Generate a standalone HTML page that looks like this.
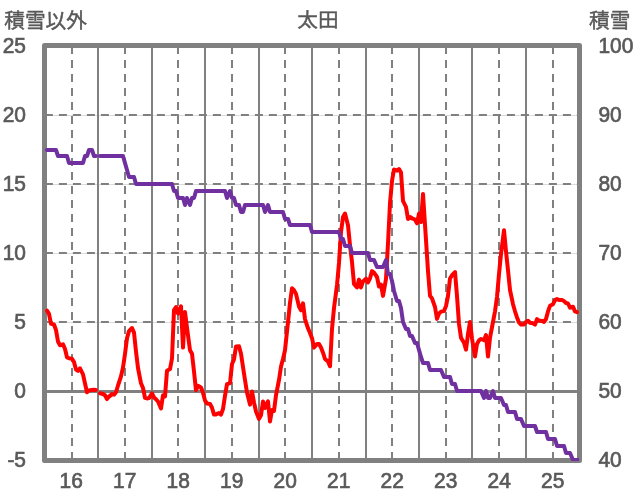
<!DOCTYPE html>
<html lang="ja"><head><meta charset="utf-8"><title>太田</title>
<style>html,body{margin:0;padding:0;background:#fff;overflow:hidden}svg{display:block}text{font-family:"Liberation Sans","Noto Sans CJK JP",sans-serif;fill:#595959}.t{font-size:20.7px;stroke:#595959;stroke-width:0.45px}.n{font-size:22.4px;stroke:#595959;stroke-width:0.7px}</style>
</head><body>
<svg width="636" height="501" viewBox="0 0 636 501">
<rect x="0" y="0" width="636" height="501" fill="#ffffff"/>
<rect x="44.5" y="45.5" width="535.0" height="415.0" fill="none" stroke="#808080" stroke-width="5" stroke-linejoin="round"/>
<g stroke="#dcdcdc" stroke-width="1" fill="none">
<line x1="44.9" y1="115.50" x2="578.9" y2="115.50"/>
<line x1="44.9" y1="184.50" x2="578.9" y2="184.50"/>
<line x1="44.9" y1="253.50" x2="578.9" y2="253.50"/>
<line x1="44.9" y1="322.50" x2="578.9" y2="322.50"/>
</g>
<g stroke="#808080" stroke-width="2" fill="none">
<line x1="72.00" y1="46.1" x2="72.00" y2="460.0" stroke-dasharray="8 6"/>
<line x1="125.00" y1="46.1" x2="125.00" y2="460.0" stroke-dasharray="8 6"/>
<line x1="178.00" y1="46.1" x2="178.00" y2="460.0" stroke-dasharray="8 6"/>
<line x1="232.00" y1="46.1" x2="232.00" y2="460.0" stroke-dasharray="8 6"/>
<line x1="285.00" y1="46.1" x2="285.00" y2="460.0" stroke-dasharray="8 6"/>
<line x1="339.00" y1="46.1" x2="339.00" y2="460.0" stroke-dasharray="8 6"/>
<line x1="392.00" y1="46.1" x2="392.00" y2="460.0" stroke-dasharray="8 6"/>
<line x1="446.00" y1="46.1" x2="446.00" y2="460.0" stroke-dasharray="8 6"/>
<line x1="499.00" y1="46.1" x2="499.00" y2="460.0" stroke-dasharray="8 6"/>
<line x1="553.00" y1="46.1" x2="553.00" y2="460.0" stroke-dasharray="8 6"/>
<line x1="98.00" y1="46.0" x2="98.00" y2="460.0"/>
<line x1="152.00" y1="46.0" x2="152.00" y2="460.0"/>
<line x1="205.00" y1="46.0" x2="205.00" y2="460.0"/>
<line x1="259.00" y1="46.0" x2="259.00" y2="460.0"/>
<line x1="312.00" y1="46.0" x2="312.00" y2="460.0"/>
<line x1="366.00" y1="46.0" x2="366.00" y2="460.0"/>
<line x1="419.00" y1="46.0" x2="419.00" y2="460.0"/>
<line x1="472.00" y1="46.0" x2="472.00" y2="460.0"/>
<line x1="526.00" y1="46.0" x2="526.00" y2="460.0"/>
<line x1="44.9" y1="115.00" x2="578.9" y2="115.00" stroke-dasharray="8 6"/>
<line x1="44.9" y1="184.00" x2="578.9" y2="184.00" stroke-dasharray="8 6"/>
<line x1="44.9" y1="253.00" x2="578.9" y2="253.00" stroke-dasharray="8 6"/>
<line x1="44.9" y1="322.00" x2="578.9" y2="322.00" stroke-dasharray="8 6"/>
</g>
<line x1="44.9" y1="391.50" x2="578.9" y2="391.50" stroke="#808080" stroke-width="3"/>
<defs><clipPath id="pc"><rect x="41.9" y="43.0" width="537.1" height="418.0"/></clipPath></defs>
<g clip-path="url(#pc)" fill="none" stroke="#ff0000" stroke-width="4" stroke-linejoin="round" stroke-linecap="round">
<polyline points="47.0,310.7 49.0,313.8 51.0,323.9 54.0,324.5 56.0,330.2 58.0,341.5 60.0,345.3 63.0,344.3 65.0,349.0 67.0,357.4 69.0,358.3 72.0,358.7 74.0,362.0 76.0,369.5 78.0,370.8 80.0,368.3 83.0,374.3 85.0,383.5 87.0,392.2 89.0,390.5 92.0,389.9 94.0,389.7 96.0,389.9"/>
<polyline points="100.0,393.2 103.0,394.0 105.0,395.3 107.0,399.1 109.0,396.6 112.0,394.1 114.0,394.7 116.0,392.2 118.0,385.5 121.0,376.4 123.0,367.5 125.0,354.0 127.0,338.3 129.0,331.1 132.0,328.0 134.0,332.6 136.0,351.5 138.0,368.0 141.0,383.3 143.0,388.0 145.0,397.8 147.0,398.4 149.0,398.1 152.0,393.4 154.0,397.5 156.0,399.3 158.0,401.5 161.0,408.5 163.0,395.3 165.0,396.5 167.0,370.7 170.0,369.1 172.0,358.5 174.0,310.0 176.0,307.0 178.0,313.5 181.0,306.3 183.0,347.6 185.0,312.0 187.0,327.7 190.0,350.2 192.0,353.8 194.0,371.4 196.0,390.2 198.0,385.8 201.0,387.5 203.0,392.7 205.0,400.6 207.0,403.5 210.0,403.9 212.0,407.7 214.0,414.6 216.0,414.4 219.0,413.0 221.0,414.6 223.0,409.0 225.0,395.8 227.0,384.2 230.0,383.1 232.0,364.0 234.0,359.5 236.0,346.4 239.0,346.2 241.0,353.8 243.0,367.0 245.0,380.0 247.0,392.5 250.0,404.6 252.0,391.4 254.0,402.4 256.0,411.5 259.0,418.9 261.0,415.3 263.0,401.4 265.0,408.0 268.0,401.4 270.0,421.5 272.0,410.0 274.0,410.9 276.0,395.2 279.0,380.0 281.0,366.5 283.0,359.0 285.0,350.2 288.0,322.0 290.0,302.7 292.0,288.2 294.0,290.1 296.0,293.9 299.0,306.5 301.0,310.3 303.0,303.3 305.0,319.1 308.0,328.3 310.0,333.1 312.0,338.2 314.0,347.6 317.0,343.9 319.0,344.1 321.0,347.6 323.0,352.7 325.0,359.0 328.0,361.5 330.0,366.3 332.0,329.0 334.0,308.0 337.0,285.0 339.0,263.0 341.0,232.0 343.0,217.0 345.0,213.5 348.0,225.2 350.0,245.3 352.0,262.0 354.0,284.0 357.0,287.5 359.0,279.6 361.0,287.5 363.0,281.4 366.0,278.7 368.0,282.5 370.0,278.3 372.0,271.1 374.0,272.6 377.0,277.0 379.0,286.5 381.0,284.6 383.0,295.9 386.0,279.0 388.0,243.5 390.0,203.0 392.0,181.0 394.0,169.5 397.0,170.7 399.0,169.1 401.0,172.6 403.0,200.8 406.0,207.0 408.0,219.0 410.0,217.0 412.0,218.3 415.0,219.5 417.0,223.3 419.0,213.6 421.0,222.0 423.0,194.0 426.0,240.0 428.0,271.0 430.0,295.8 432.0,298.4 435.0,307.0 437.0,318.9 439.0,313.6 441.0,311.6 444.0,311.1 446.0,306.0 448.0,296.0 450.0,278.5 452.0,275.2 455.0,272.0 457.0,296.0 459.0,324.0 461.0,337.8 464.0,342.8 466.0,349.7 468.0,334.0 470.0,322.0 472.0,338.5 475.0,356.5 477.0,344.0 479.0,340.4 481.0,339.0 484.0,340.2 486.0,335.0 488.0,356.6 490.0,337.7 493.0,322.0 495.0,311.3 497.0,297.0 499.0,274.0 501.0,254.0 504.0,230.2 506.0,251.4 508.0,270.3 510.0,290.0 513.0,304.2 515.0,311.3 517.0,317.4 519.0,322.4 521.0,324.6 524.0,324.6 526.0,322.0 528.0,320.8 530.0,322.7 533.0,323.3 535.0,324.6 537.0,319.1 539.0,320.6 542.0,320.9 544.0,321.9 546.0,319.0 548.0,311.4 550.0,305.8 553.0,304.2 555.0,300.1 557.0,299.1 559.0,299.9 562.0,299.9 564.0,301.1 566.0,303.0 568.0,303.5 570.0,307.7 573.0,306.7 575.0,311.4 577.0,312.1"/>
</g>
<g clip-path="url(#pc)" fill="none" stroke="#7030a0" stroke-width="4" stroke-linejoin="round" stroke-linecap="round">
<polyline points="47.0,150.0 49.0,150.0 51.0,150.0 54.0,150.0 56.0,150.0 58.0,156.0 60.0,156.0 63.0,156.0 65.0,156.0 67.0,156.0 69.0,163.0 72.0,163.0 74.0,163.0 76.0,163.0 78.0,163.0 80.0,163.0 83.0,163.0 85.0,156.0 87.0,156.0 89.0,150.0 92.0,150.0 94.0,156.0 96.0,156.0"/>
<polyline points="100.0,156.0 103.0,156.0 105.0,156.0 107.0,156.0 109.0,156.0 112.0,156.0 114.0,156.0 116.0,156.0 118.0,156.0 121.0,156.0 123.0,156.0 125.0,163.0 127.0,170.0 129.0,177.0 132.0,177.0 134.0,177.0 136.0,184.0 138.0,184.0 141.0,184.0 143.0,184.0 145.0,184.0 147.0,184.0 149.0,184.0 152.0,184.0 154.0,184.0 156.0,184.0 158.0,184.0 161.0,184.0 163.0,184.0 165.0,184.0 167.0,184.0 170.0,184.0 172.0,184.0 174.0,191.0 176.0,191.0 178.0,198.0 181.0,198.0 183.0,198.0 185.0,205.0 187.0,198.0 190.0,205.0 192.0,198.0 194.0,198.0 196.0,191.0 198.0,191.0 201.0,191.0 203.0,191.0 205.0,191.0 207.0,191.0 210.0,191.0 212.0,191.0 214.0,191.0 216.0,191.0 219.0,191.0 221.0,191.0 223.0,191.0 225.0,191.0 227.0,198.0 230.0,191.0 232.0,198.0 234.0,198.0 236.0,205.0 239.0,205.0 241.0,212.0 243.0,212.0 245.0,205.0 247.0,205.0 250.0,205.0 252.0,205.0 254.0,205.0 256.0,205.0 259.0,205.0 261.0,205.0 263.0,205.0 265.0,212.0 268.0,205.0 270.0,212.0 272.0,212.0 274.0,212.0 276.0,212.0 279.0,212.0 281.0,212.0 283.0,212.0 285.0,219.0 288.0,219.0 290.0,225.0 292.0,225.0 294.0,225.0 296.0,225.0 299.0,225.0 301.0,225.0 303.0,225.0 305.0,225.0 308.0,225.0 310.0,225.0 312.0,232.0 314.0,232.0 317.0,232.0 319.0,232.0 321.0,232.0 323.0,232.0 325.0,232.0 328.0,232.0 330.0,232.0 332.0,232.0 334.0,232.0 337.0,232.0 339.0,232.0 341.0,239.0 343.0,239.0 345.0,246.0 348.0,246.0 350.0,246.0 352.0,253.0 354.0,253.0 357.0,253.0 359.0,253.0 361.0,253.0 363.0,253.0 366.0,253.0 368.0,253.0 370.0,260.0 372.0,260.0 374.0,260.0 377.0,267.0 379.0,267.0 381.0,267.0 383.0,267.0 386.0,260.0 388.0,274.0 390.0,274.0 392.0,281.0 394.0,291.0 397.0,301.0 399.0,301.0 401.0,308.0 403.0,322.0 406.0,329.0 408.0,329.0 410.0,336.0 412.0,336.0 415.0,343.0 417.0,343.0 419.0,350.0 421.0,357.0 423.0,363.0 426.0,363.0 428.0,363.0 430.0,370.0 432.0,370.0 435.0,370.0 437.0,370.0 439.0,370.0 441.0,370.0 444.0,377.0 446.0,377.0 448.0,377.0 450.0,377.0 452.0,384.0 455.0,384.0 457.0,391.0 459.0,391.0 461.0,391.0 464.0,391.0 466.0,391.0 468.0,391.0 470.0,391.0 472.0,391.0 475.0,391.0 477.0,391.0 479.0,391.0 481.0,391.0 484.0,398.0 486.0,391.0 488.0,398.0 490.0,398.0 493.0,391.0 495.0,398.0 497.0,398.0 499.0,398.0 501.0,398.0 504.0,405.0 506.0,405.0 508.0,412.0 510.0,412.0 513.0,412.0 515.0,412.0 517.0,419.0 519.0,419.0 521.0,419.0 524.0,426.0 526.0,426.0 528.0,426.0 530.0,426.0 533.0,426.0 535.0,426.0 537.0,432.0 539.0,432.0 542.0,432.0 544.0,432.0 546.0,432.0 548.0,439.0 550.0,439.0 553.0,439.0 555.0,439.0 557.0,446.0 559.0,446.0 562.0,446.0 564.0,446.0 566.0,453.0 568.0,453.0 570.0,453.0 573.0,460.0 575.0,460.0 577.0,460.0 579.0,460.0"/>
</g>
<text class="t" x="4.2" y="27.7">積雪以外</text>
<text class="t" transform="translate(318,26.6) scale(1,0.93)" text-anchor="middle">太田</text>
<text class="t" x="589.0" y="27.7">積雪</text>
<text class="n" transform="translate(26.00,53.00) scale(0.935,1)" text-anchor="end">25</text>
<text class="n" transform="translate(26.00,122.00) scale(0.935,1)" text-anchor="end">20</text>
<text class="n" transform="translate(26.00,191.00) scale(0.935,1)" text-anchor="end">15</text>
<text class="n" transform="translate(26.00,260.00) scale(0.935,1)" text-anchor="end">10</text>
<text class="n" transform="translate(26.00,329.00) scale(0.935,1)" text-anchor="end">5</text>
<text class="n" transform="translate(26.00,398.00) scale(0.935,1)" text-anchor="end">0</text>
<text class="n" transform="translate(26.00,467.00) scale(0.935,1)" text-anchor="end">-5</text>
<text class="n" transform="translate(598.40,53.00) scale(0.935,1)" text-anchor="start">100</text>
<text class="n" transform="translate(598.40,122.00) scale(0.935,1)" text-anchor="start">90</text>
<text class="n" transform="translate(598.40,191.00) scale(0.935,1)" text-anchor="start">80</text>
<text class="n" transform="translate(598.40,260.00) scale(0.935,1)" text-anchor="start">70</text>
<text class="n" transform="translate(598.40,329.00) scale(0.935,1)" text-anchor="start">60</text>
<text class="n" transform="translate(598.40,398.00) scale(0.935,1)" text-anchor="start">50</text>
<text class="n" transform="translate(598.40,467.00) scale(0.935,1)" text-anchor="start">40</text>
<text class="n" transform="translate(71.25,487.60) scale(0.935,1)" text-anchor="middle">16</text>
<text class="n" transform="translate(124.75,487.60) scale(0.935,1)" text-anchor="middle">17</text>
<text class="n" transform="translate(178.25,487.60) scale(0.935,1)" text-anchor="middle">18</text>
<text class="n" transform="translate(231.75,487.60) scale(0.935,1)" text-anchor="middle">19</text>
<text class="n" transform="translate(285.25,487.60) scale(0.935,1)" text-anchor="middle">20</text>
<text class="n" transform="translate(338.75,487.60) scale(0.935,1)" text-anchor="middle">21</text>
<text class="n" transform="translate(392.25,487.60) scale(0.935,1)" text-anchor="middle">22</text>
<text class="n" transform="translate(445.75,487.60) scale(0.935,1)" text-anchor="middle">23</text>
<text class="n" transform="translate(499.25,487.60) scale(0.935,1)" text-anchor="middle">24</text>
<text class="n" transform="translate(552.75,487.60) scale(0.935,1)" text-anchor="middle">25</text>
</svg></body></html>
